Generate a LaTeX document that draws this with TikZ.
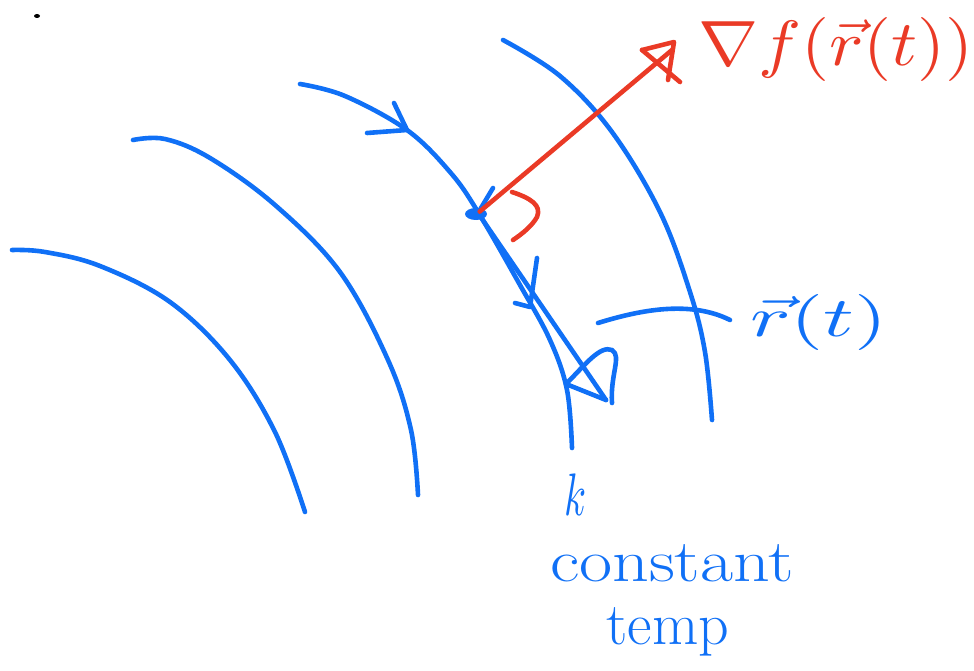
\documentclass[tikz,border=0pt]{standalone}
\usepackage{amsmath}
\usepackage{graphicx}
\definecolor{penblue}{RGB}{16,112,246}
\definecolor{penred}{RGB}{234,58,38}
\begin{document}
\begin{tikzpicture}[x=1pt,y=-1pt,
  bstroke/.style={draw=penblue,line width=4.6pt,line cap=round,line join=round},
  rstroke/.style={draw=penred,line width=4.6pt,line cap=round,line join=round},
  blabel/.style={text=penblue,inner sep=0pt},
  rlabel/.style={text=penred,inner sep=0pt}]
\useasboundingbox (0,0) rectangle (974,671);
% black dot
\fill[black] (37,16) ellipse (3 and 2);
% level curves
\draw[bstroke] plot[smooth,tension=0.6] coordinates {(12,250) (45,252) (100,266) (170,302) (230,360) (275,432) (305,512)};
\draw[bstroke] plot[smooth,tension=0.6] coordinates {(133,140) (165,139) (210,158) (275,205) (340,272) (388,360) (411,430) (418,495)};
\draw[bstroke] plot[smooth,tension=0.6] coordinates {(300,84) (345,96) (407,130) (450,172) (478,212) (520,285) (550,340) (567,390) (572,448)};
\draw[bstroke] plot[smooth,tension=0.6] coordinates {(503,40) (560,76) (612,132) (660,212) (690,292) (705,352) (712,420)};
% point
\node[fill=penblue,circle,minimum size=4pt,inner sep=0pt] (P) at (478,213) {};
\fill[penblue] (476,214) ellipse (11 and 6);
\draw[bstroke] (P) -- (493,188);
% chevrons on curves (flow direction)
\draw[bstroke] (394,103) -- (407,130) -- (367,133);
\draw[bstroke] (537,258) -- (530,307) -- (515,303);
% tangent vector
\coordinate (T) at (606,400);
\draw[bstroke] (P) -- (T);
\draw[bstroke] (T) -- (566,384) .. controls (585,365) and (600,345) .. (612,350) .. controls (622,356) and (610,375) .. (612,403);
% gradient vector
\coordinate (G) at (672,50);
\draw[rstroke] (P) -- (G);
\draw[rstroke] (642,50) -- (674,42) -- (668,80);
\draw[rstroke] (642,50) -- (680,82);
% right angle mark
\draw[rstroke] (512,192) .. controls (530,198) and (542,205) .. (537,217) .. controls (532,226) and (522,234) .. (513,240);
% labels
\node[rlabel,anchor=west] (gradlab) at (698,50) {\scalebox{7.2}[6.4]{$\nabla f(\vec{r}(t))$}};
\coordinate (L0) at (598,323);
\coordinate (L1) at (730,320);
\draw[bstroke] (L0) .. controls (640,310) and (690,300) .. (L1);
\node[blabel,anchor=west] (rlab) at (750,322) {\scalebox{8.5}[5.6]{$\vec{r}(t)$}};
\node[blabel] (klab) at (576,495) {\scalebox{4}[6]{$k$}};
\node[blabel] (constlab) at (672,563) {\scalebox{1.2}[1]{\fontsize{60}{64}\selectfont constant}};
\node[blabel] (templab) at (668,632) {\fontsize{60}{64}\selectfont temp};
\end{tikzpicture}
\end{document}
